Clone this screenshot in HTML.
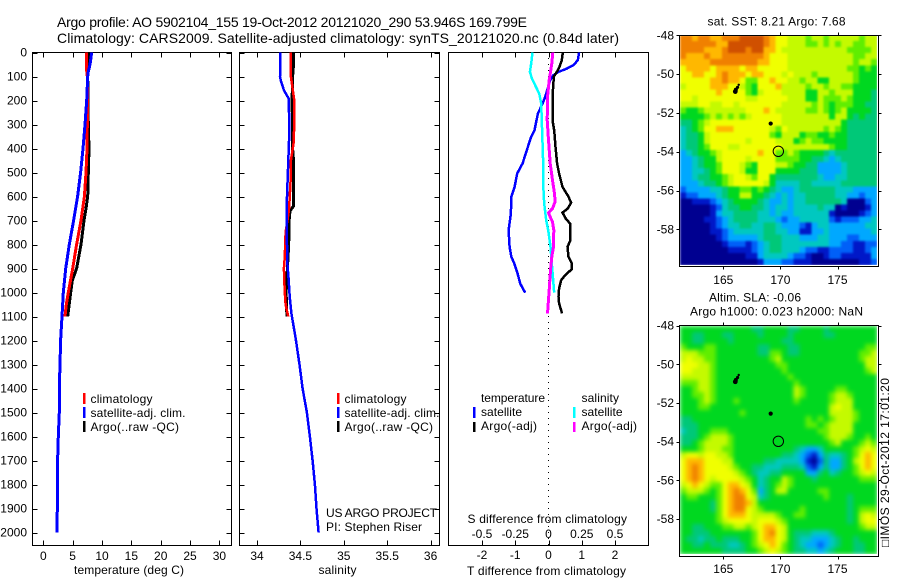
<!DOCTYPE html>
<html lang="en">
<head>
<meta charset="utf-8">
<title>Argo profile</title>
<style>
html,body{margin:0;padding:0;background:#fff;}
svg{display:block;}
text{font-family:"Liberation Sans",sans-serif;font-size:12px;fill:#000;}
.t{font-size:14px;}
</style>
</head>
<body>
<svg id="chart" width="900" height="580" viewBox="0 0 900 580" xmlns="http://www.w3.org/2000/svg">
<defs>
<filter id="soft-sst" x="0" y="0" width="100%" height="100%" color-interpolation-filters="sRGB"><feGaussianBlur stdDeviation="1.1" edgeMode="duplicate"/></filter>
<filter id="soft-sla" x="0" y="0" width="100%" height="100%" color-interpolation-filters="sRGB"><feGaussianBlur stdDeviation="2.2" edgeMode="duplicate"/></filter>
<clipPath id="clip-sst"><rect x="680" y="35" width="197" height="230"/></clipPath>
<clipPath id="clip-sla"><rect x="680" y="326" width="197" height="228"/></clipPath>
</defs>
<text class="t" x="57" y="27" textLength="470">Argo profile: AO 5902104_155 19-Oct-2012 20121020_290 53.946S 169.799E</text>
<text class="t" x="57" y="43" textLength="562">Climatology: CARS2009. Satellite-adjusted climatology: synTS_20121020.nc (0.84d later)</text>
<g id="marks"></g>
<text x="74" y="574" textLength="110">temperature (deg C)</text>
<text x="318.500" y="574" textLength="38">salinity</text>
<text x="467" y="575" textLength="159">T difference from climatology</text>
<text x="467.500" y="523" textLength="159.500">S difference from climatology</text>
<g>
<rect x="83" y="393" width="2.500" height="11" fill="#f00"/>
<rect x="83" y="407" width="2.500" height="11" fill="#00f"/>
<rect x="83" y="421" width="2.500" height="11" fill="#000"/>
<text x="90.500" y="403" textLength="62">climatology</text>
<text x="90.500" y="417" textLength="95">satellite-adj. clim.</text>
<text x="90.500" y="431" textLength="88.500">Argo(..raw -QC)</text>
</g>
<g>
<rect x="337" y="393" width="2.500" height="11" fill="#f00"/>
<rect x="337" y="407" width="2.500" height="11" fill="#00f"/>
<rect x="337" y="421" width="2.500" height="11" fill="#000"/>
<text x="344.500" y="403" textLength="62">climatology</text>
<text x="344.500" y="417" textLength="95">satellite-adj. clim.</text>
<text x="344.500" y="431" textLength="88.500">Argo(..raw -QC)</text>
<text x="326" y="517" textLength="111">US ARGO PROJECT</text>
<text x="326" y="531" textLength="96">PI: Stephen Riser</text>
</g>
<g>
<text x="481" y="402" textLength="64">temperature</text>
<rect x="473" y="407" width="2.500" height="11" fill="#00f"/>
<text x="481" y="416" textLength="41">satellite</text>
<rect x="473" y="422" width="2.500" height="10" fill="#000"/>
<text x="481" y="430" textLength="56">Argo(-adj)</text>
<text x="581.500" y="402" textLength="37.500">salinity</text>
<rect x="573" y="407" width="2.500" height="11" fill="#0ff"/>
<text x="581.500" y="416" textLength="41">satellite</text>
<rect x="573" y="422" width="2.500" height="10" fill="#f0f"/>
<text x="581.500" y="430" textLength="55.500">Argo(-adj)</text>
</g>
<text x="707.500" y="25.500" textLength="138">sat. SST: 8.21  Argo: 7.68</text>
<text x="709" y="301.500" textLength="92">Altim. SLA: -0.06</text>
<text x="690" y="315.500" textLength="173">Argo h1000: 0.023 h2000: NaN</text>
<text transform="translate(889 547) rotate(-90)" x="0" y="0" textLength="169" style="font-family:'Liberation Sans','DejaVu Sans',sans-serif">□IMOS 29-Oct-2012 17:01:20</text>
</svg>
<script>
// ---- Profile data ----
var tempTicks = [0, 5, 10, 15, 20, 25, 30];
var salTicks = [34, 34.5, 35, 35.5, 36];
var salTickLabels = ['34', '34.5', '35', '35.5', '36'];
var tTicks = [-2, -1, 0, 1, 2];
var tTickLabels = ['-2', '-1', '0', '1', '2'];
var sTicks = [-0.5, -0.25, 0, 0.25, 0.5];
var sTickLabels = ['-0.5', '-0.25', '0', '0.25', '0.5'];
var depthTicks = [0, 100, 200, 300, 400, 500, 600, 700, 800, 900, 1000, 1100, 1200, 1300, 1400, 1500, 1600, 1700, 1800, 1900, 2000];

var tempSatDepth = [0, 50, 80, 100, 200, 300, 400, 500, 600, 700, 800, 900, 1000, 1100, 1200, 1300, 1400, 1500, 1600, 1700, 1800, 1900, 2000];
var tempSatValue = [8.24, 7.95, 7.67, 7.56, 7.39, 7.1, 6.76, 6.36, 5.85, 5.17, 4.43, 3.81, 3.41, 3.18, 2.95, 2.84, 2.73, 2.73, 2.56, 2.44, 2.39, 2.39, 2.33];
var tempClimDepth = [0, 60, 100, 200, 300, 400, 500, 600, 700, 800, 900, 1000, 1050, 1100];
var tempClimValue = [7.33, 7.33, 7.5, 7.56, 7.5, 7.44, 7.27, 7.0, 6.42, 5.68, 5.0, 4.26, 3.92, 3.69];
var tempArgoDepth = [0, 50, 100, 200, 300, 400, 500, 600, 650, 700, 800, 900, 950, 1000, 1100];
var tempArgoValue = [7.73, 7.67, 7.56, 7.61, 7.67, 7.78, 7.67, 7.56, 7.27, 6.93, 6.42, 5.68, 4.94, 4.66, 4.15];

var salSatDepth = [0, 100, 115, 157, 192, 324, 462, 601, 740, 879, 949, 1018, 1087, 1192, 1300, 1400, 1500, 1600, 1700, 1800, 1900, 2000];
var salSatValue = [34.27, 34.265, 34.273, 34.31, 34.365, 34.373, 34.36, 34.346, 34.342, 34.35, 34.365, 34.377, 34.396, 34.446, 34.49, 34.525, 34.575, 34.61, 34.64, 34.667, 34.686, 34.71];
var salClimDepth = [0, 100, 150, 200, 300, 380, 450, 500, 550, 650, 700, 750, 850, 900, 950, 1000, 1050, 1100];
var salClimValue = [34.39, 34.39, 34.41, 34.43, 34.43, 34.42, 34.39, 34.39, 34.385, 34.37, 34.35, 34.33, 34.32, 34.31, 34.315, 34.32, 34.33, 34.36];
var salArgoDepth = [0, 50, 100, 200, 350, 400, 450, 500, 600, 640, 660, 700, 800, 900, 1000, 1100];
var salArgoValue = [34.42, 34.42, 34.41, 34.404, 34.41, 34.41, 34.42, 34.42, 34.42, 34.42, 34.38, 34.37, 34.365, 34.35, 34.335, 34.345];

var diffTSatDepth = [0, 32, 53, 67, 81, 94, 115, 185, 219, 254, 324, 351, 393, 462, 504, 560, 601, 671, 740, 810, 851, 879, 921, 963, 1001];
var diffTSatValue = [0.92, 0.88, 0.75, 0.55, 0.30, 0.15, 0.05, -0.10, -0.20, -0.32, -0.42, -0.52, -0.62, -0.78, -0.94, -1.02, -1.12, -1.13, -1.20, -1.17, -1.12, -1.03, -0.93, -0.85, -0.70];
var diffTArgoDepth = [0, 32, 60, 81, 101, 185, 282, 324, 393, 462, 504, 560, 601, 626, 650, 667, 692, 713, 782, 810, 851, 879, 903, 928, 949, 983, 1018, 1046, 1087];
var diffTArgoValue = [0.43, 0.40, 0.33, 0.25, 0.16, 0.12, 0.12, 0.17, 0.21, 0.26, 0.32, 0.42, 0.60, 0.68, 0.58, 0.42, 0.52, 0.65, 0.66, 0.57, 0.60, 0.70, 0.70, 0.50, 0.38, 0.32, 0.30, 0.32, 0.41];
var diffSSatDepth = [0, 46, 81, 108, 143, 171, 212, 324, 462, 574, 629, 699, 740, 810, 879, 1001];
var diffSSatValue = [-0.12, -0.13, -0.14, -0.125, -0.095, -0.07, -0.055, -0.048, -0.04, -0.0375, -0.0325, -0.0175, -0.0025, 0.015, 0.025, 0.0425];
var diffSArgoDepth = [0, 46, 81, 115, 185, 282, 365, 462, 532, 588, 622, 650, 668, 685, 706, 740, 810, 851, 907, 990, 1087];
var diffSArgoValue = [0.0325, 0.025, 0.015, 0.005, -0.0075, -0.01, 0, 0.0125, 0.03, 0.045, 0.05, 0.03, 0, 0.0125, 0.03, 0.04, 0.0375, 0.025, 0.015, 0.005, -0.0075];

// ---- Map data: colour level of each grid cell, north to south ----
var mapLonTicks = [165, 170, 175];
var mapLatTicks = [-48, -50, -52, -54, -56, -58];
var trackLon = [166.35, 166.25, 166.1, 166.05];
var trackLat = [-50.55, -50.68, -50.8, -50.9];
var dotLon = [169.15];
var dotLat = [-52.55];
var profileLon = [169.82];
var profileLat = [-53.98];
var levelColors = ['#000090', '#0018c8', '#0060f8', '#00a8ff', '#00c8c0', '#00c878', '#00d820', '#60ee00', '#c4fa00', '#f0ff00', '#ffb800', '#f08000', '#d05000'];

var sstLevels = [
[11,11,10,11,11,10,10,11,11,11,12,12,12,12,11,10,9,9,8,8,8,7,8,8,7,8,8,8,8,8,7,8,8],
[11,11,11,11,11,11,10,10,12,12,12,12,12,12,11,10,9,9,8,8,8,7,7,8,7,8,7,8,8,7,7,8,8],
[11,11,11,11,10,10,10,11,12,12,12,11,12,12,10,10,9,8,8,8,8,8,8,8,8,8,8,8,7,7,7,7,8],
[11,10,10,10,11,10,10,11,11,11,11,11,11,11,10,9,9,9,8,8,8,8,8,8,8,8,8,8,8,7,7,8,8],
[10,10,10,10,10,11,11,11,11,11,11,11,11,10,10,9,9,9,8,8,8,8,8,8,8,8,8,8,8,7,8,8,7],
[9,10,10,10,10,9,10,10,10,10,9,10,10,9,9,9,9,9,8,8,8,8,8,8,8,8,8,8,7,7,6,7,6],
[9,9,10,10,9,9,10,11,10,10,10,9,10,10,9,9,9,8,9,8,8,8,7,8,8,8,8,8,8,7,6,6,6],
[9,9,9,9,9,10,10,11,10,10,9,7,7,9,9,10,9,9,8,8,7,8,8,6,6,8,8,8,8,7,6,6,6],
[8,9,9,9,9,10,10,10,9,9,8,7,6,9,9,9,10,8,8,8,8,7,8,8,7,8,8,7,7,6,6,6,6],
[9,9,9,9,9,9,10,9,9,9,9,7,6,8,9,9,9,8,8,8,8,6,6,8,8,7,8,8,8,6,6,6,5],
[9,9,8,9,9,9,9,9,9,9,9,8,8,9,9,9,9,9,8,8,8,6,6,8,7,7,7,8,7,6,6,6,5],
[8,8,8,9,9,8,8,9,9,8,9,9,9,9,9,9,9,8,8,8,8,8,7,8,7,6,7,7,7,6,6,5,5],
[7,6,6,7,8,8,8,8,8,8,8,9,9,9,10,9,8,8,8,8,8,7,7,8,7,6,7,8,6,6,6,6,5],
[6,6,6,6,7,8,7,8,7,8,7,8,9,9,9,9,9,8,8,8,8,8,8,8,8,6,8,8,6,5,6,5,5],
[5,5,6,7,8,9,9,9,9,9,9,9,9,9,9,9,9,8,8,8,8,8,8,8,8,8,8,6,5,5,5,5,5],
[4,5,6,7,9,9,10,10,10,9,9,9,9,9,9,8,7,9,8,8,8,8,8,8,7,8,7,6,5,5,5,5,5],
[4,5,5,6,8,9,9,9,9,9,9,9,9,9,9,7,6,8,8,8,6,7,7,6,6,7,6,6,5,5,5,5,5],
[4,5,5,6,8,9,9,9,9,9,9,8,9,9,9,9,8,8,8,6,7,8,7,7,6,6,6,6,5,5,5,5,5],
[4,5,5,6,7,9,9,9,8,8,9,9,9,9,9,9,9,8,8,8,8,8,8,8,8,7,6,6,5,5,5,5,5],
[3,4,5,6,6,7,8,9,9,9,9,9,9,10,9,9,7,7,8,7,6,6,6,6,5,4,5,5,5,5,5,5,5],
[3,3,4,5,6,6,8,9,9,9,9,8,9,9,9,9,7,7,7,7,6,6,5,5,4,3,4,5,5,5,5,5,5],
[3,3,4,5,6,6,7,9,9,9,8,7,6,9,9,9,8,8,7,6,6,5,5,3,3,3,3,4,5,5,5,5,5],
[3,3,4,4,5,6,7,9,9,9,8,6,6,9,9,9,6,6,6,6,5,5,5,3,3,3,3,4,5,5,5,5,5],
[3,3,4,5,5,6,6,7,8,9,9,8,7,9,9,6,5,5,5,5,5,5,5,4,3,3,4,4,5,5,5,5,5],
[3,3,3,4,5,5,6,7,8,9,9,9,9,9,8,6,4,4,4,4,5,5,4,4,4,4,4,5,5,5,5,5,5],
[2,3,3,3,3,4,4,5,6,6,7,7,6,7,6,5,4,3,3,4,5,5,5,5,5,5,4,4,4,3,3,3,3],
[1,2,2,3,3,3,4,5,6,6,8,8,6,6,5,4,3,4,3,4,4,5,5,5,5,5,4,4,3,3,2,3,3],
[0,0,1,1,1,2,3,4,5,6,6,6,6,5,4,3,3,4,3,4,4,5,5,5,5,5,5,4,0,0,0,2,3],
[0,0,0,0,0,1,2,4,5,5,6,6,5,5,4,3,4,4,3,4,4,4,4,5,4,4,0,1,0,0,0,1,3],
[0,0,0,0,0,1,3,4,4,5,5,5,5,4,4,3,4,3,3,4,4,4,4,4,4,1,0,0,0,0,1,2,3],
[0,0,0,0,1,1,2,3,4,5,5,5,5,4,4,4,3,2,3,3,4,4,4,4,4,2,1,2,2,2,3,3,4],
[0,0,0,0,0,1,2,3,4,4,5,5,4,4,5,5,4,3,3,3,2,1,3,4,4,3,3,3,3,3,3,4,4],
[0,0,0,0,0,1,1,2,3,4,4,4,4,4,5,5,4,4,3,3,1,1,3,3,4,3,3,3,3,3,3,3,4],
[0,0,0,0,0,0,1,2,3,3,3,3,3,4,5,5,5,4,4,4,3,3,3,4,4,3,3,3,2,2,3,3,3],
[0,0,0,0,0,0,0,1,2,2,2,1,2,3,4,5,5,4,4,4,4,4,4,4,4,3,3,2,2,1,1,2,2],
[0,0,0,0,0,0,0,0,1,1,1,1,2,3,4,5,5,4,4,4,3,2,2,1,1,2,2,2,2,1,1,2,3],
[0,0,0,0,0,0,0,0,0,0,0,1,1,3,4,4,4,4,3,2,2,1,0,0,1,2,2,1,1,1,1,1,3],
[0,0,0,0,0,0,0,0,0,0,0,0,0,1,3,3,3,2,2,1,1,1,0,0,0,0,0,0,0,0,1,1,2]
];

var slaLevels = [
[6,6,6,6,6,6,6,6,6,6,6,6,5,5,6,6,6,6,5,5,6,6,6,6,5,6,6,6,6,6,6,6,6],
[6,6,5,5,6,6,6,5,5,6,6,6,6,5,6,6,6,6,5,6,6,6,6,6,5,5,6,6,6,6,6,6,6],
[6,6,5,5,6,6,6,6,5,6,6,6,6,6,6,6,6,5,5,6,6,6,6,6,6,6,6,6,6,6,6,6,6],
[7,6,6,6,7,7,6,6,6,6,6,6,6,5,5,6,6,6,5,5,6,6,6,6,6,6,6,6,6,6,6,7,7],
[8,8,8,7,7,7,6,6,6,6,6,6,6,5,5,7,7,6,5,5,6,6,6,6,6,6,6,6,6,6,7,7,8],
[8,9,8,8,7,7,6,6,6,6,6,6,6,6,6,7,8,6,6,6,6,6,6,6,6,6,6,6,6,6,7,8,8],
[9,9,9,8,8,7,6,6,6,6,6,6,6,6,6,6,7,7,6,6,6,6,6,6,6,6,6,6,6,6,6,8,8],
[9,9,8,8,8,7,6,6,6,6,6,6,6,6,6,6,6,7,6,6,6,6,6,6,6,6,6,6,6,6,6,7,8],
[8,8,8,8,8,7,6,6,6,6,6,6,6,6,6,6,6,6,7,6,6,6,6,6,6,6,6,6,6,6,6,6,6],
[7,7,7,8,8,7,6,6,6,6,6,6,6,6,6,6,6,6,6,7,6,6,6,6,6,6,6,6,6,6,6,6,6],
[6,6,7,8,8,7,6,6,6,6,6,6,6,6,6,6,6,6,6,8,7,6,6,6,6,6,7,7,6,6,6,6,6],
[6,6,7,7,8,7,6,6,6,6,6,6,6,6,6,6,6,6,6,8,7,6,6,6,6,7,8,8,7,6,6,6,6],
[6,6,6,7,8,7,6,6,6,7,6,6,6,6,6,6,6,6,6,7,6,6,6,6,6,7,8,8,8,6,6,6,6],
[6,6,6,7,7,6,6,6,6,6,6,6,6,6,6,6,6,6,6,6,6,6,6,6,6,8,9,8,8,6,6,6,6],
[6,6,6,6,6,6,6,6,6,6,7,6,6,6,6,6,6,6,6,6,6,6,6,6,6,8,8,8,8,7,6,6,6],
[5,5,6,6,6,6,6,6,6,6,6,6,6,6,6,6,6,6,6,6,6,7,6,7,6,7,8,8,8,7,6,6,6],
[5,5,5,6,6,6,6,6,6,6,6,6,6,6,6,6,6,6,6,6,6,7,7,6,7,8,8,8,8,6,6,6,6],
[4,5,5,6,6,7,7,7,6,6,6,6,6,6,6,6,6,6,6,6,6,6,6,7,7,8,8,8,8,6,6,6,6],
[5,5,5,6,7,8,8,8,7,6,6,6,6,6,6,6,6,6,6,6,6,6,6,6,7,8,8,8,7,6,6,7,6],
[5,5,6,7,8,8,8,8,7,6,6,6,6,6,6,6,6,6,6,6,6,6,6,6,6,7,8,6,6,6,7,8,7],
[6,6,6,7,8,8,8,7,7,6,6,6,6,6,6,6,6,6,6,5,4,3,3,4,6,6,6,6,6,7,8,9,8],
[8,9,9,8,9,9,8,8,7,6,6,6,6,6,6,6,6,5,5,4,3,2,1,3,5,4,4,5,6,7,9,10,9],
[9,10,10,10,9,9,9,8,8,6,6,6,6,6,5,5,4,4,4,4,3,1,0,2,5,3,3,5,6,8,9,10,9],
[9,10,11,10,9,9,9,9,8,7,6,6,5,5,4,4,4,5,5,5,4,2,1,3,5,3,3,5,6,7,9,10,9],
[9,10,11,10,9,9,9,9,9,8,7,6,5,4,4,5,5,6,6,6,6,3,3,5,6,4,5,6,6,7,8,9,8],
[9,10,11,10,9,8,9,9,9,9,8,7,6,4,5,6,6,8,7,6,6,6,5,6,6,6,6,6,6,6,7,7,7],
[8,9,10,9,8,7,7,9,10,10,9,8,6,4,5,6,7,8,7,6,6,6,6,6,6,6,6,6,6,6,6,6,6],
[7,8,8,8,7,6,7,9,10,11,10,9,7,3,5,6,8,8,6,6,6,6,6,7,7,6,6,6,6,6,6,6,6],
[6,7,7,6,6,6,7,9,10,11,11,9,8,4,5,6,6,6,6,6,6,6,6,6,7,6,6,6,5,6,6,6,6],
[6,6,6,6,6,5,7,9,10,11,11,10,8,6,6,6,6,6,6,6,6,6,6,6,6,6,6,6,5,6,6,6,6],
[6,6,6,6,6,5,7,9,10,11,11,9,8,7,6,6,6,6,6,6,7,6,6,6,6,6,6,6,5,6,7,7,7],
[6,6,6,6,6,6,7,9,10,10,10,9,8,8,8,8,7,6,6,7,7,6,6,6,6,6,6,6,5,6,8,9,8],
[6,6,6,6,6,6,7,8,9,9,9,9,8,9,9,9,8,7,6,6,6,6,6,6,6,6,6,6,5,6,8,9,9],
[6,6,5,5,6,6,6,7,7,8,8,7,8,9,10,10,9,8,6,6,6,6,6,6,6,6,6,6,6,6,7,8,8],
[6,6,5,5,5,6,6,6,6,6,6,6,7,9,10,11,9,8,6,5,5,5,4,4,4,5,6,6,6,6,6,6,6],
[6,5,5,4,5,5,6,5,5,5,6,6,7,9,10,10,9,8,6,5,4,4,3,3,3,4,5,6,6,5,6,6,6],
[6,6,5,5,6,5,5,5,4,4,5,6,7,8,9,10,9,7,6,5,4,3,3,2,3,4,5,6,6,5,5,6,6],
[6,6,6,6,6,6,6,5,5,5,5,6,6,7,8,9,8,7,6,5,5,4,4,3,4,5,6,6,6,5,5,6,6]
];

// ---- Drawing ----
var SVGNS = 'http://www.w3.org/2000/svg';
var root = document.getElementById('marks');
function xTemp(v) { return 43.3 + v * 5.87; }
function xSal(v) { return 257 + (v - 34) * 86.8; }
function xDiffT(v) { return 548.5 + v * 33.25; }
function xDiffS(v) { return 548.5 + v * 133; }
function yDepth(d) { return 52.5 + d * 0.24; }
function xLon(l) { return 723.3 + (l - 165) * 11.42; }
function ySst(l) { return 35.3 + (-48 - l) * 19.4; }
function ySla(l) { return 325.7 + (-48 - l) * 19.33; }

function make(tag, name, parent) {
  var el = document.createElementNS(SVGNS, tag);
  
  
  (parent || root).appendChild(el);
  return el;
}
function seg(x1, y1, x2, y2, name) {
  var l = make('line', name);
  l.setAttribute('x1', Math.round(x1) + 0.5);
  l.setAttribute('y1', Math.round(y1) + 0.5);
  l.setAttribute('x2', Math.round(x2) + 0.5);
  l.setAttribute('y2', Math.round(y2) + 0.5);
  l.setAttribute('stroke', '#000');
  l.setAttribute('stroke-width', '1');
  l.setAttribute('shape-rendering', 'crispEdges');
  return l;
}
function label(x, y, str, anchor, name) {
  var t = make('text', name);
  t.setAttribute('x', x);
  t.setAttribute('y', y);
  t.setAttribute('text-anchor', anchor);
  t.textContent = str;
  return t;
}
function frame(x, y, w, h, name) {
  var r = make('rect', name);
  r.setAttribute('x', x + 0.5);
  r.setAttribute('y', y + 0.5);
  r.setAttribute('width', w);
  r.setAttribute('height', h);
  r.setAttribute('fill', 'none');
  r.setAttribute('stroke', '#000');
  r.setAttribute('shape-rendering', 'crispEdges');
}
function profile(depths, values, xf, color, width, name) {
  var p = make('polyline', name);
  var pts = [];
  for (var i = 0; i < depths.length; i++) {
    pts.push(xf(values[i]).toFixed(1) + ',' + yDepth(depths[i]).toFixed(1));
  }
  p.setAttribute('points', pts.join(' '));
  p.setAttribute('fill', 'none');
  p.setAttribute('stroke', color);
  p.setAttribute('stroke-width', width);
  p.setAttribute('shape-rendering', 'crispEdges');
}

var PT = 52, PB = 545;
var panelEdges = [[32, 231], [239, 439]];

// profile panels: frame, ticks, labels
frame(32, PT, 199, PB - PT, 'temperature-panel-frame');
frame(239, PT, 200, PB - PT, 'salinity-panel-frame');
frame(448, PT, 200, PB - PT, 'difference-panel-frame');

tempTicks.forEach(function (v) {
  var x = xTemp(v);
  seg(x, PT, x, PT + 5, 'temperature-top-tick');
  seg(x, PB, x, PB - 5, 'temperature-bottom-tick');
  label(x, 560, String(v), 'middle', 'temperature-tick-label');
});
salTicks.forEach(function (v, i) {
  var x = xSal(v);
  seg(x, PT, x, PT + 5, 'salinity-top-tick');
  seg(x, PB, x, PB - 5, 'salinity-bottom-tick');
  label(x, 560, salTickLabels[i], 'middle', 'salinity-tick-label');
});
tTicks.forEach(function (v, i) {
  var x = xDiffT(v);
  seg(x, PT, x, PT + 5, 'difference-top-tick');
  seg(x, PB, x, PB - 5, 'difference-bottom-tick');
  label(x, 559, tTickLabels[i], 'middle', 't-difference-tick-label');
});
sTicks.forEach(function (v, i) {
  label(xDiffS(v), 538, sTickLabels[i], 'middle', 's-difference-tick-label');
});
depthTicks.forEach(function (d) {
  var y = yDepth(d);
  panelEdges.forEach(function (e) {
    seg(e[0], y, e[0] + 5, y, 'depth-left-tick');
    seg(e[1], y, e[1] - 5, y, 'depth-right-tick');
  });
  label(27, y + 4, String(d), 'end', 'depth-tick-label');
});

// zero line in the difference panel
var zero = make('line', 'zero-difference-line');
zero.setAttribute('x1', xDiffT(0));
zero.setAttribute('x2', xDiffT(0));
zero.setAttribute('y1', PT);
zero.setAttribute('y2', PB);
zero.setAttribute('stroke', '#000');
zero.setAttribute('stroke-width', '1');
zero.setAttribute('stroke-dasharray', '1 5');
zero.setAttribute('shape-rendering', 'crispEdges');

// series
profile(tempArgoDepth, tempArgoValue, xTemp, '#000', 3, 'temperature-argo-line');
profile(tempClimDepth, tempClimValue, xTemp, '#f00', 3, 'temperature-climatology-line');
profile(tempSatDepth, tempSatValue, xTemp, '#00f', 3, 'temperature-satellite-line');
profile(salArgoDepth, salArgoValue, xSal, '#000', 3, 'salinity-argo-line');
profile(salClimDepth, salClimValue, xSal, '#f00', 2.5, 'salinity-climatology-line');
profile(salSatDepth, salSatValue, xSal, '#00f', 2.5, 'salinity-satellite-line');
profile(diffTSatDepth, diffTSatValue, xDiffT, '#00f', 2.5, 'difference-t-satellite-line');
profile(diffTArgoDepth, diffTArgoValue, xDiffT, '#000', 2.5, 'difference-t-argo-line');
profile(diffSSatDepth, diffSSatValue, xDiffS, '#0ff', 2.5, 'difference-s-satellite-line');
profile(diffSArgoDepth, diffSArgoValue, xDiffS, '#f0f', 3, 'difference-s-argo-line');

// maps
function drawMap(levels, top, height, yf, key, frameTop, frameH, labelBase) {
  var shortKey = key.split('-')[0];
  var clip = make('g', key + '-clip');
  clip.setAttribute('clip-path', 'url(#clip-' + shortKey + ')');
  var g = make('g', key + '-heatmap', clip);
  g.setAttribute('filter', 'url(#soft-' + shortKey + ')');
  var rows = levels.length;
  var cw = 197 / levels[0].length;
  var ch = height / rows;
  levels.forEach(function (row, r) {
    row.forEach(function (lv, c) {
      var cell = make('rect', key + '-cell', g);
      cell.setAttribute('x', (680 + c * cw).toFixed(2));
      cell.setAttribute('y', (top + r * ch).toFixed(2));
      cell.setAttribute('width', (cw + 0.3).toFixed(2));
      cell.setAttribute('height', (ch + 0.3).toFixed(2));
      cell.setAttribute('fill', levelColors[lv]);
      cell.setAttribute('shape-rendering', 'crispEdges');
    });
  });
  frame(679, frameTop, 199, frameH, key + '-frame');
  mapLonTicks.forEach(function (l) {
    var x = xLon(l);
    seg(x, frameTop, x, frameTop - 3, key + '-top-tick');
    seg(x, frameTop + frameH, x, frameTop + frameH + 3, key + '-bottom-tick');
    label(x, labelBase, String(l), 'middle', key + '-lon-label');
  });
  mapLatTicks.forEach(function (l) {
    var y = yf(l);
    seg(679, y, 676, y, key + '-left-tick');
    seg(878, y, 881, y, key + '-right-tick');
    label(674, y + 4, String(l), 'end', key + '-lat-label');
  });
  // float track
  trackLon.forEach(function (l, i) {
    var d = make('circle', key + '-track-point');
    d.setAttribute('cx', xLon(l));
    d.setAttribute('cy', yf(trackLat[i]));
    d.setAttribute('r', 1.2 + i * 0.4);
    d.setAttribute('fill', '#000');
  });
  dotLon.forEach(function (l, i) {
    var d = make('circle', key + '-previous-position');
    d.setAttribute('cx', xLon(l));
    d.setAttribute('cy', yf(dotLat[i]));
    d.setAttribute('r', 2.1);
    d.setAttribute('fill', '#000');
  });
  profileLon.forEach(function (l, i) {
    var d = make('circle', key + '-profile-position');
    d.setAttribute('cx', xLon(l));
    d.setAttribute('cy', yf(profileLat[i]));
    d.setAttribute('r', 5.2);
    d.setAttribute('fill', 'none');
    d.setAttribute('stroke', '#000');
    d.setAttribute('stroke-width', '1');
  });
}
drawMap(sstLevels, 35, 230, ySst, 'sst-map', 35, 231, 284);
drawMap(slaLevels, 326, 228, ySla, 'sla-map', 325, 231, 573);
</script>
</body>
</html>
